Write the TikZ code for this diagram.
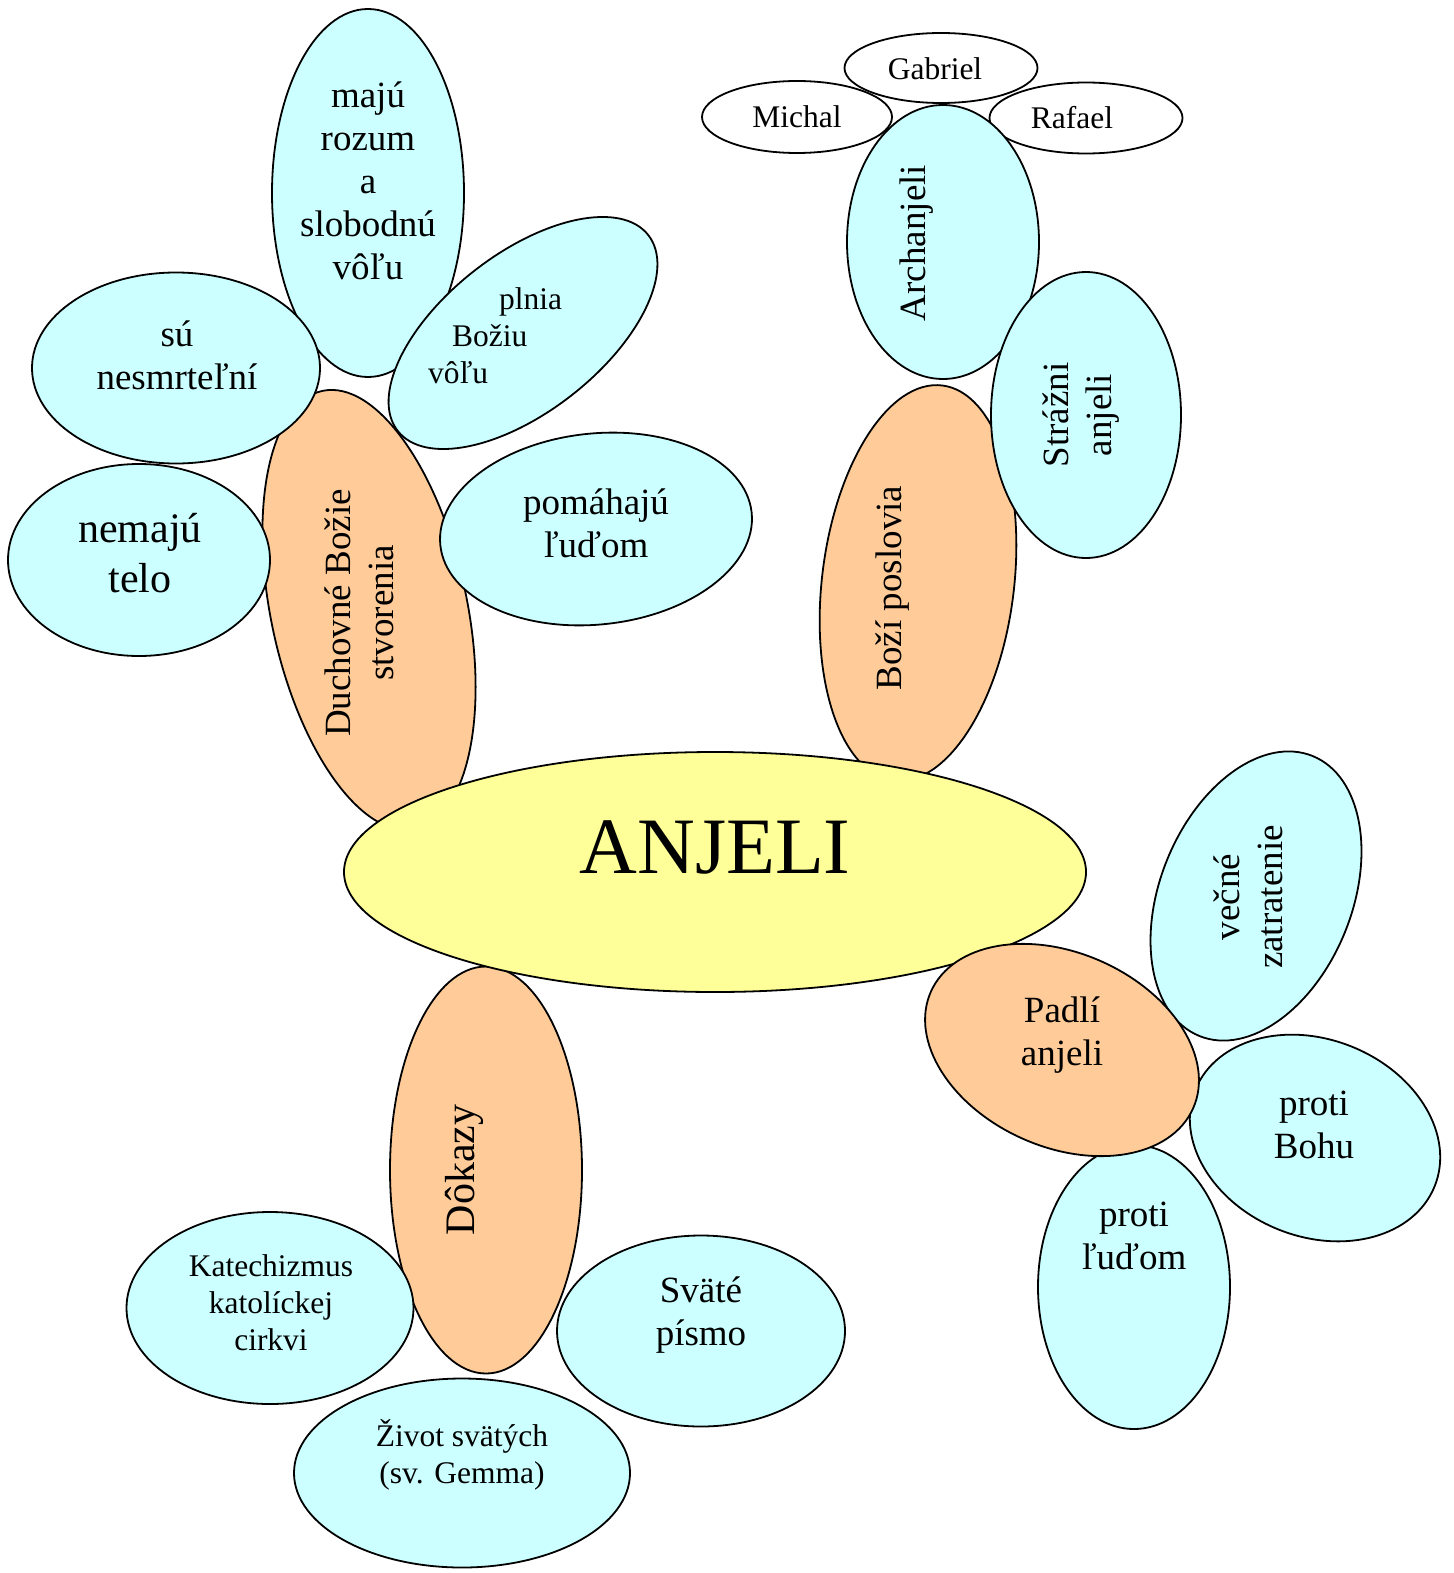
\documentclass[tikz,border=0pt]{standalone}
\usepackage{fontspec}
\setmainfont{Liberation Serif}
\usetikzlibrary{shapes.geometric}
\definecolor{lightcyan}{HTML}{CCFFFF}
\definecolor{peach}{HTML}{FFCC99}
\definecolor{paleyellow}{HTML}{FFFF99}
\begin{document}
\begin{tikzpicture}[x=1pt,y=-1pt,
    blob/.style={draw,shape=ellipse,line width=1.8pt,inner sep=0pt,fill=lightcyan},
    core/.style={blob,fill=peach},
    namebox/.style={blob,fill=white},
    txt/.style={align=center,inner sep=0pt,font=\fontsize{37}{43}\selectfont},
    smalltxt/.style={txt,font=\fontsize{31.5}{37}\selectfont},
    largetxt/.style={txt,font=\fontsize{42}{50}\selectfont}]
    \useasboundingbox (0,0) rectangle (1453,1573);

    % branches under the centre
    \node[core,minimum width=196pt,minimum height=448pt,rotate=12] (duch) at (369,610) {};
    \node[core,minimum width=192pt,minimum height=398pt,rotate=-7] (posl) at (918,583) {};
    \node[core,minimum width=192pt,minimum height=407pt] (doka) at (486,1170) {};
    \node[blob,fill=paleyellow,minimum width=742pt,minimum height=240pt] (anj) at (715,872) {};

    % Duchovne Bozie stvorenia
    \node[blob,minimum width=192pt,minimum height=368pt] (rozum) at (368,193) {};
    \node[blob,minimum width=288pt,minimum height=191pt] (nesm) at (176,368) {};
    \node[blob,minimum width=318pt,minimum height=158pt,rotate=38] (vola) at (523,333) {};
    \node[blob,minimum width=262pt,minimum height=192pt] (telo) at (139,560) {};
    \node[blob,minimum width=313pt,minimum height=191pt,rotate=6] (pomoc) at (596,529) {};

    % Bozi poslovia
    \node[namebox,minimum width=190pt,minimum height=72pt] (michal) at (797,117) {};
    \node[namebox,minimum width=193pt,minimum height=71pt] (rafael) at (1086,118) {};
    \node[namebox,minimum width=193pt,minimum height=70pt] (gabriel) at (941,68) {};
    \node[blob,minimum width=192pt,minimum height=274pt] (arch) at (943,242) {};
    \node[blob,minimum width=190pt,minimum height=286pt] (straz) at (1086,415) {};

    % Padli anjeli
    \node[blob,minimum width=192pt,minimum height=302pt,rotate=-22] (zatr) at (1256,896) {};
    \node[blob,minimum width=258pt,minimum height=197pt,rotate=-22] (bohu) at (1315,1138) {};
    \node[blob,minimum width=192pt,minimum height=284pt] (ludom) at (1134,1287) {};
    \node[core,minimum width=287pt,minimum height=194pt,rotate=-24] (padli) at (1062,1050) {};

    % Dokazy
    \node[blob,minimum width=336pt,minimum height=189pt] (zivot) at (462,1473) {};
    \node[blob,minimum width=287pt,minimum height=192pt] (kat) at (270,1308) {};
    \node[blob,minimum width=288pt,minimum height=191pt] (pismo) at (701,1331) {};

    % texts
    \node[txt,font=\fontsize{80}{90}\selectfont] (anjtxt) at (715,847) {ANJELI};
    \node[txt,rotate=90] (duchtxt) at (359,613) {Duchovné Božie\\stvorenia};
    \node[txt,rotate=90] (posltxt) at (893,588) {Boží poslovia};
    \node[largetxt,rotate=90] (dokatxt) at (464,1170) {Dôkazy};
    \node[txt] (rozumtxt) at (368,181) {majú\\rozum\\a\\slobodnú\\vôľu};
    \node[txt] (nesmtxt) at (177,355) {sú\\nesmrteľní};
    \node[smalltxt,align=left] (volatxt) at (495,336) {\hspace*{71pt}plnia\\\hspace*{24pt}Božiu\\vôľu};
    \node[largetxt] (telotxt) at (140,553) {nemajú\\telo};
    \node[txt] (pomoctxt) at (596,523) {pomáhajú\\ľuďom};
    \node[smalltxt] (michaltxt) at (797,117) {Michal};
    \node[smalltxt] (gabrieltxt) at (935,69) {Gabriel};
    \node[smalltxt] (rafaeltxt) at (1072,118) {Rafael};
    \node[txt,rotate=90] (archtxt) at (917,243) {Archanjeli};
    \node[txt,rotate=90] (straztxt) at (1081,415) {Strážni\\anjeli};
    \node[txt,rotate=90] (zatrtxt) at (1248,897) {večné\\zatratenie};
    \node[txt] (bohutxt) at (1314,1125) {proti\\Bohu};
    \node[txt] (ludomtxt) at (1134,1236) {proti\\ľuďom};
    \node[txt] (padlitxt) at (1062,1035) {Padlí\\anjeli};
    \node[smalltxt] (zivottxt) at (462,1455) {Život svätých\\(sv. Gemma)};
    \node[smalltxt] (kattxt) at (271,1303) {Katechizmus\\katolíckej\\cirkvi};
    \node[txt] (pismotxt) at (701,1315) {Sväté\\písmo};
\end{tikzpicture}
\end{document}
